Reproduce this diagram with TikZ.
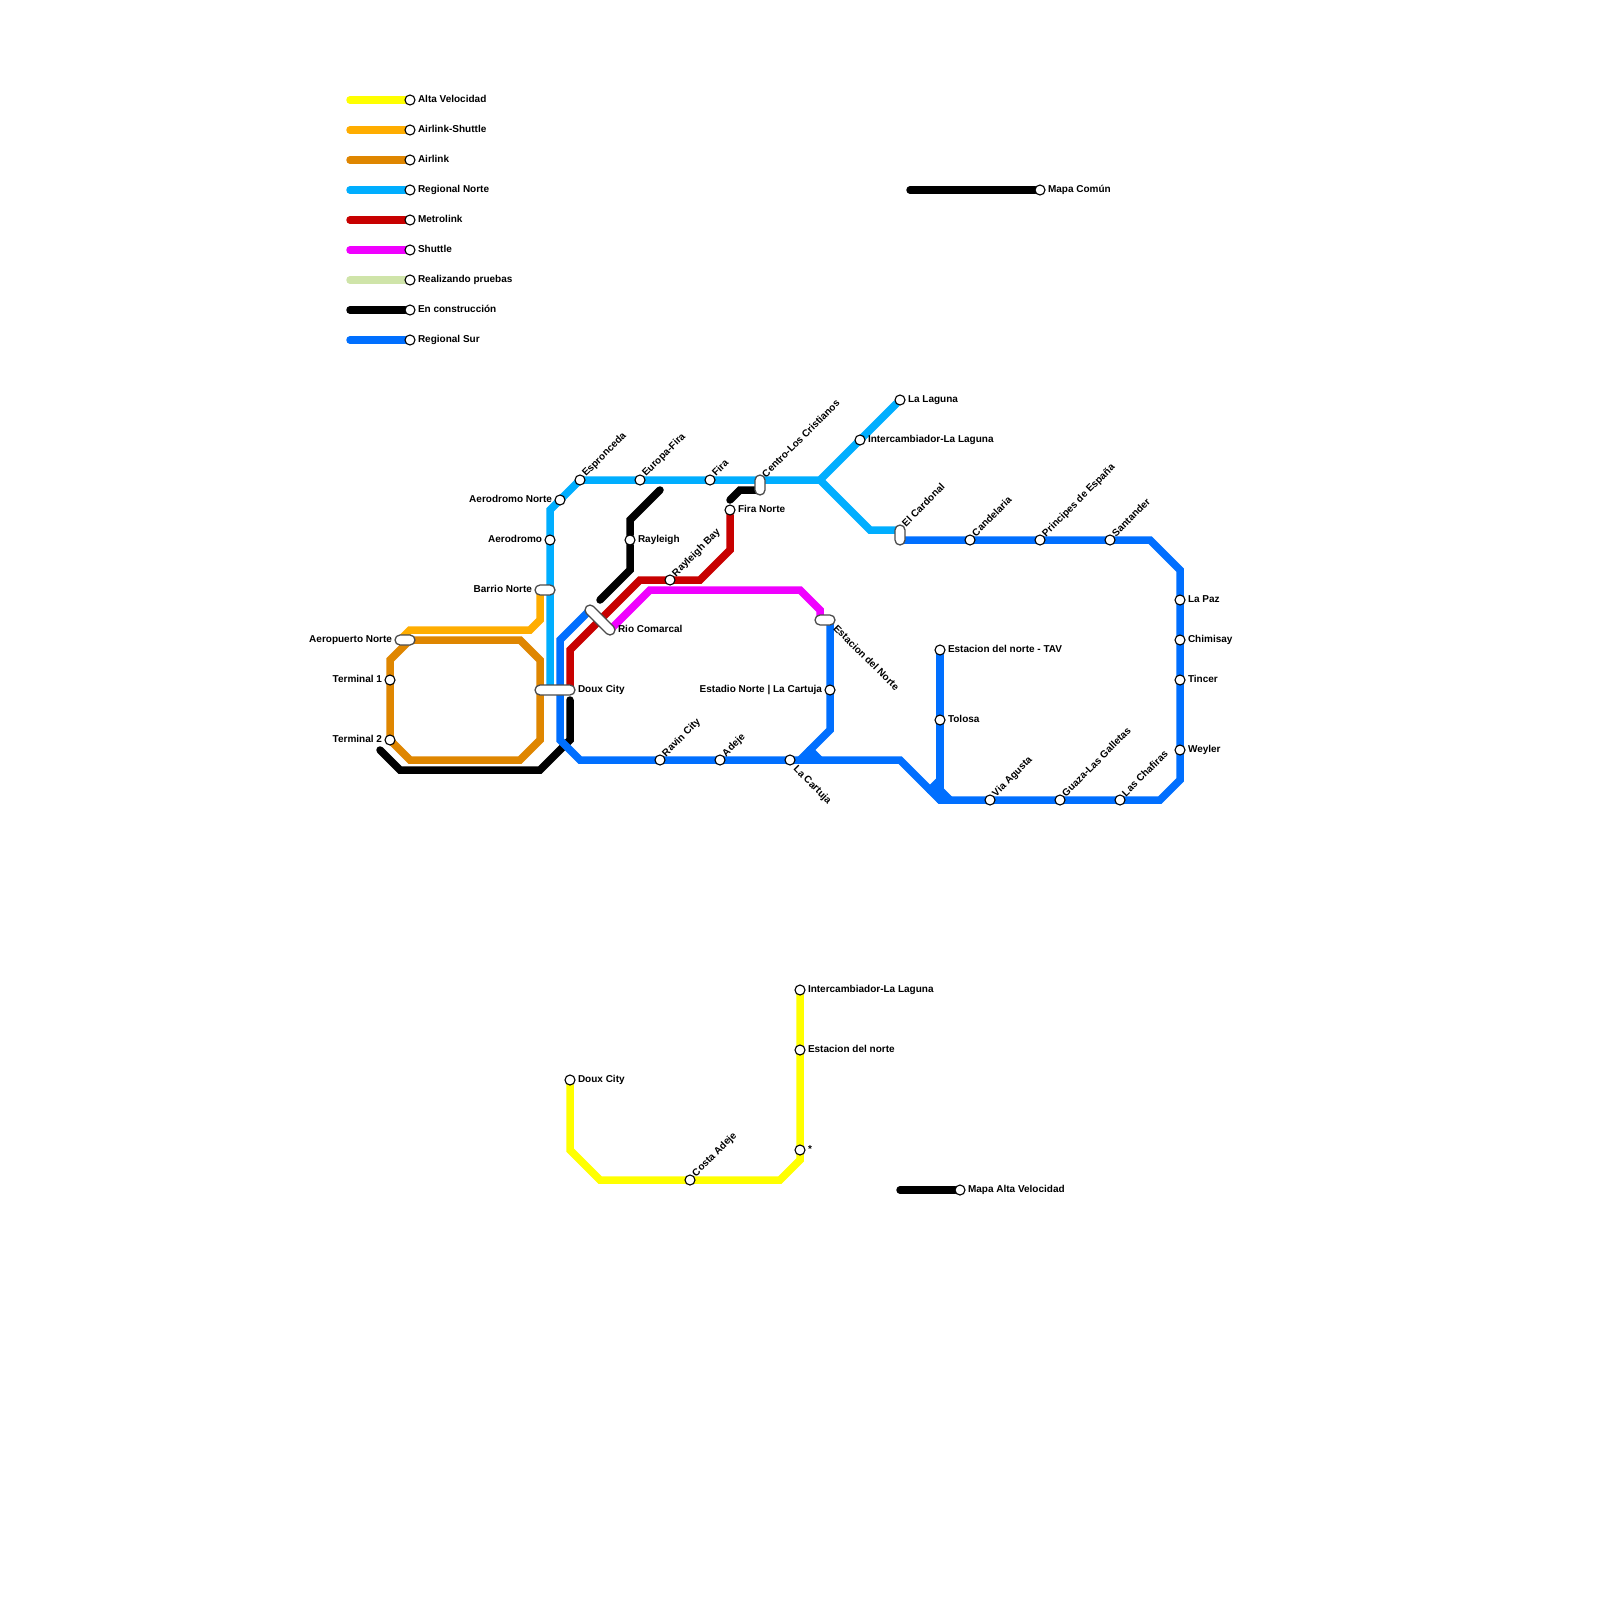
\documentclass[tikz,border=0pt]{standalone}
\usepackage{fontspec}
\setmainfont{Liberation Sans}
\usetikzlibrary{positioning, backgrounds, shapes.misc}
\definecolor{altavel}{HTML}{FFFF00}
\definecolor{airshuttle}{HTML}{FFAD00}
\definecolor{airlink}{HTML}{DF8600}
\definecolor{regnorte}{HTML}{00AEFF}
\definecolor{metrolink}{HTML}{C80000}
\definecolor{shuttle}{HTML}{F000FF}
\definecolor{pruebas}{HTML}{CFE4A9}
\definecolor{regsur}{HTML}{006FFF}

\begin{document}
\begin{tikzpicture}[
  x=1pt, y=-1pt,
  stop/.style={circle, draw=black, fill=white, line width=1.1pt, minimum size=10pt, inner sep=0pt, outer sep=0pt},
  hub/.style={rounded rectangle, draw=black!70, fill=white, line width=1.3pt, inner sep=0pt, outer sep=0pt, minimum height=10pt},
  txt/.style={font=\bfseries\fontsize{10pt}{10pt}\selectfont, inner sep=0pt, outer sep=0pt, text height=7.5pt, text depth=2pt},
  txtr/.style={txt, anchor=west},
  txtl/.style={txt, anchor=east},
  txtup/.style={txt, anchor=west, rotate=45, xshift=1.5pt, yshift=0.5pt},
  txtdown/.style={txt, anchor=west, rotate=-45, xshift=4pt, yshift=-2pt},
  track/.style={line width=7.5pt, line cap=round, line join=miter}
]
\useasboundingbox (0,0) rectangle (1600,1600);

% legend
\node[stop] (leg1) at (410,100) {};
\node[stop] (leg2) at (410,130) {};
\node[stop] (leg3) at (410,160) {};
\node[stop] (leg4) at (410,190) {};
\node[stop] (leg5) at (410,220) {};
\node[stop] (leg6) at (410,250) {};
\node[stop] (leg7) at (410,280) {};
\node[stop] (leg8) at (410,310) {};
\node[stop] (leg9) at (410,340) {};
\node[txtr, right=3pt of leg1] (leg1t) {Alta Velocidad};
\node[txtr, right=3pt of leg2] (leg2t) {Airlink-Shuttle};
\node[txtr, right=3pt of leg3] (leg3t) {Airlink};
\node[txtr, right=3pt of leg4] (leg4t) {Regional Norte};
\node[txtr, right=3pt of leg5] (leg5t) {Metrolink};
\node[txtr, right=3pt of leg6] (leg6t) {Shuttle};
\node[txtr, right=3pt of leg7] (leg7t) {Realizando pruebas};
\node[txtr, right=3pt of leg8] (leg8t) {En construcción};
\node[txtr, right=3pt of leg9] (leg9t) {Regional Sur};
\coordinate (leg1a) at (350,100);
\coordinate (leg2a) at (350,130);
\coordinate (leg3a) at (350,160);
\coordinate (leg4a) at (350,190);
\coordinate (leg5a) at (350,220);
\coordinate (leg6a) at (350,250);
\coordinate (leg7a) at (350,280);
\coordinate (leg8a) at (350,310);
\coordinate (leg9a) at (350,340);

% interchanges
\node[hub, minimum width=20pt] (barrio) at (545,590) {};
\node[hub, minimum width=20pt] (aeropuerto) at (405,640) {};
\node[hub, minimum width=40pt] (doux) at (555,690) {};
\node[hub, minimum width=38.3pt, rotate=-45] (rio) at (600,620) {};
\node[hub, minimum width=20pt] (estnorte) at (825,620) {};
\node[hub, minimum width=20pt, rotate=90] (centro) at (760,485) {};
\node[hub, minimum width=20pt, rotate=90] (cardonal) at (900,535) {};
\node[txtl, left=3pt of barrio] (barriot) {Barrio Norte};
\node[txtl, left=3pt of aeropuerto] (aeropuertot) {Aeropuerto Norte};
\node[txtr, right=3pt of doux] (douxt) {Doux City};
\node[txtr] (riot) at (618,630) {Rio Comarcal};
\node[txtdown] (estnortet) at (833.5,623) {Estacion del Norte};
\node[txtup] (centrot) at (763.5,477.5) {Centro-Los Cristianos};
\node[txtup] (cardonalt) at (903.5,526.5) {El Cardonal};

% stations
\node[stop] (term1) at (390,680) {};
\node[stop] (term2) at (390,740) {};
\node[stop] (aeronorte) at (560,500) {};
\node[stop] (aero) at (550,540) {};
\node[stop] (espronceda) at (580,480) {};
\node[stop] (europa) at (640,480) {};
\node[stop] (fira) at (710,480) {};
\node[stop] (firanorte) at (730,510) {};
\node[stop] (rayleigh) at (630,540) {};
\node[stop] (rayleighbay) at (670,580) {};
\node[stop] (laguna) at (900,400) {};
\node[stop] (inter) at (860,440) {};
\node[stop] (candelaria) at (970,540) {};
\node[stop] (principes) at (1040,540) {};
\node[stop] (santander) at (1110,540) {};
\node[stop] (lapaz) at (1180,600) {};
\node[stop] (chimisay) at (1180,640) {};
\node[stop] (tincer) at (1180,680) {};
\node[stop] (weyler) at (1180,750) {};
\node[stop] (chafiras) at (1120,800) {};
\node[stop] (guaza) at (1060,800) {};
\node[stop] (agusta) at (990,800) {};
\node[stop] (tav) at (940,650) {};
\node[stop] (tolosa) at (940,720) {};
\node[stop] (estadio) at (830,690) {};
\node[stop] (cartuja) at (790,760) {};
\node[stop] (adeje) at (720,760) {};
\node[stop] (ravin) at (660,760) {};
\node[stop] (comun) at (1040,190) {};
\node[stop] (mapaav) at (960,1190) {};
\node[stop] (ydoux) at (570,1080) {};
\node[stop] (costa) at (690,1180) {};
\node[stop] (yast) at (800,1150) {};
\node[stop] (ynorte) at (800,1050) {};
\node[stop] (yinter) at (800,990) {};

% station labels
\node[txtl, left=3pt of term1] (term1t) {Terminal 1};
\node[txtl, left=3pt of term2] (term2t) {Terminal 2};
\node[txtl, left=3pt of aeronorte] (aeronortet) {Aerodromo Norte};
\node[txtl, left=3pt of aero] (aerot) {Aerodromo};
\node[txtl, left=3pt of estadio] (estadiot) {Estadio Norte | La Cartuja};
\node[txtr, right=3pt of firanorte] (firanortet) {Fira Norte};
\node[txtr, right=3pt of rayleigh] (rayleight) {Rayleigh};
\node[txtr, right=3pt of laguna] (lagunat) {La Laguna};
\node[txtr, right=3pt of inter] (intert) {Intercambiador-La Laguna};
\node[txtr, right=3pt of lapaz] (lapazt) {La Paz};
\node[txtr, right=3pt of chimisay] (chimisayt) {Chimisay};
\node[txtr, right=3pt of tincer] (tincert) {Tincer};
\node[txtr, right=3pt of weyler] (weylert) {Weyler};
\node[txtr, right=3pt of tav] (tavt) {Estacion del norte - TAV};
\node[txtr, right=3pt of tolosa] (tolosat) {Tolosa};
\node[txtr, right=3pt of comun] (comunt) {Mapa Común};
\node[txtr, right=3pt of mapaav] (mapaavt) {Mapa Alta Velocidad};
\node[txtr, right=3pt of ydoux] (ydouxt) {Doux City};
\node[txtr, right=3pt of yast] (yastt) {*};
\node[txtr, right=3pt of ynorte] (ynortet) {Estacion del norte};
\node[txtr, right=3pt of yinter] (yintert) {Intercambiador-La Laguna};
\node[txtup] (esproncedat) at (espronceda.north east) {Espronceda};
\node[txtup] (europat) at (europa.north east) {Europa-Fira};
\node[txtup] (firat) at (fira.north east) {Fira};
\node[txtup] (rayleighbayt) at (rayleighbay.north east) {Rayleigh Bay};
\node[txtup] (candelariat) at (candelaria.north east) {Candelaria};
\node[txtup] (principest) at (principes.north east) {Principes de España};
\node[txtup] (santandert) at (santander.north east) {Santander};
\node[txtup] (agustat) at (agusta.north east) {Via Agusta};
\node[txtup] (guazat) at (guaza.north east) {Guaza-Las Galletas};
\node[txtup] (chafirast) at (chafiras.north east) {Las Chafiras};
\node[txtup] (ravint) at (ravin.north east) {Ravin City};
\node[txtup] (adejet) at (adeje.north east) {Adeje};
\node[txtup] (costat) at (costa.north east) {Costa Adeje};
\node[txtdown] (cartujat) at (cartuja.south east) {La Cartuja};

% bends
\coordinate (n1) at (550,690);
\coordinate (n2) at (550,510);
\coordinate (n3) at (820,480);
\coordinate (n4) at (870,530);
\coordinate (n5) at (900,530);
\coordinate (o1) at (540,590);
\coordinate (o2) at (540,620);
\coordinate (o3) at (530,630);
\coordinate (o4) at (410,630);
\coordinate (o5) at (400,640);
\coordinate (a1) at (520,640);
\coordinate (a2) at (540,660);
\coordinate (a3) at (540,740);
\coordinate (a4) at (520,760);
\coordinate (a5) at (410,760);
\coordinate (a6) at (390,660);
\coordinate (a7) at (410,640);
\coordinate (b1) at (380,750);
\coordinate (b2) at (400,770);
\coordinate (b3) at (540,770);
\coordinate (b4) at (570,740);
\coordinate (b5) at (570,700);
\coordinate (c1) at (600,600);
\coordinate (c2) at (630,570);
\coordinate (c3) at (630,520);
\coordinate (c4) at (660,490);
\coordinate (d1) at (730,500);
\coordinate (d2) at (740,490);
\coordinate (d3) at (760,490);
\coordinate (e1) at (910,190);
\coordinate (e2) at (900,1190);
\coordinate (m1) at (570,690);
\coordinate (m2) at (570,650);
\coordinate (m3) at (640,580);
\coordinate (m4) at (700,580);
\coordinate (m5) at (730,550);
\coordinate (p1) at (610,630);
\coordinate (p2) at (650,590);
\coordinate (p3) at (800,590);
\coordinate (p4) at (820,610);
\coordinate (p5) at (820,620);
\coordinate (s1) at (590,610);
\coordinate (s2) at (560,640);
\coordinate (s3) at (560,740);
\coordinate (s4) at (580,760);
\coordinate (s5) at (900,760);
\coordinate (s6) at (940,800);
\coordinate (s7) at (1160,800);
\coordinate (s8) at (1180,780);
\coordinate (s9) at (1180,570);
\coordinate (s10) at (1150,540);
\coordinate (s11) at (900,540);
\coordinate (t1) at (830,620);
\coordinate (t2) at (830,730);
\coordinate (t3) at (800,760);
\coordinate (t4) at (810,750);
\coordinate (t5) at (820,760);
\coordinate (t6) at (810,760);
\coordinate (u1) at (940,780);
\coordinate (u2) at (930,790);
\coordinate (u3) at (950,800);
\coordinate (u4) at (940,790);
\coordinate (y1) at (570,1150);
\coordinate (y2) at (600,1180);
\coordinate (y3) at (780,1180);
\coordinate (y4) at (800,1160);

\begin{scope}[on background layer]
\draw[track, altavel] (leg1a) -- (leg1);
\draw[track, airshuttle] (leg2a) -- (leg2);
\draw[track, airlink] (leg3a) -- (leg3);
\draw[track, regnorte] (leg4a) -- (leg4);
\draw[track, metrolink] (leg5a) -- (leg5);
\draw[track, shuttle] (leg6a) -- (leg6);
\draw[track, pruebas] (leg7a) -- (leg7);
\draw[track, black] (leg8a) -- (leg8);
\draw[track, regsur] (leg9a) -- (leg9);

\draw[track, airshuttle] (o1) -- (o2) -- (o3) -- (o4) -- (o5);
\draw[track, airlink] (a7) -- (a1) -- (a2) -- (a3) -- (a4) -- (a5) -- (term2.center) -- (a6) -- cycle;
\draw[track, black] (b1) -- (b2) -- (b3) -- (b4) -- (b5);
\draw[track, black] (c1) -- (c2) -- (rayleigh) -- (c3) -- (c4);
\draw[track, black] (d1) -- (d2) -- (d3);
\draw[track, black] (e1) -- (comun);
\draw[track, black] (e2) -- (mapaav);
\draw[track, regnorte] (n1) -- (n2) -- (espronceda.center) -- (n3) -- (laguna);
\draw[track, regnorte] (n3) -- (n4) -- (n5);
\draw[track, metrolink] (m1) -- (m2) -- (m3) -- (m4) -- (m5) -- (firanorte);
\draw[track, shuttle] (p1) -- (p2) -- (p3) -- (p4) -- (p5);
\draw[track, regsur] (s1) -- (s2) -- (s3) -- (s4) -- (s5) -- (s6) -- (s7) -- (s8) -- (s9) -- (s10) -- (s11);
\draw[track, regsur] (t1) -- (t2) -- (t3);
\draw[track, regsur] (t4) -- (t5);
\draw[track, regsur] (t4) -- (t6);
\draw[track, regsur] (tav) -- (s6);
\draw[track, regsur] (u4) -- (u3);
\draw[track, regsur] (u4) -- (u2);
\draw[track, regsur] (u1) -- (u2);
\draw[track, altavel] (ydoux) -- (y1) -- (y2) -- (y3) -- (y4) -- (yinter);
\end{scope}
\end{tikzpicture}
\end{document}
